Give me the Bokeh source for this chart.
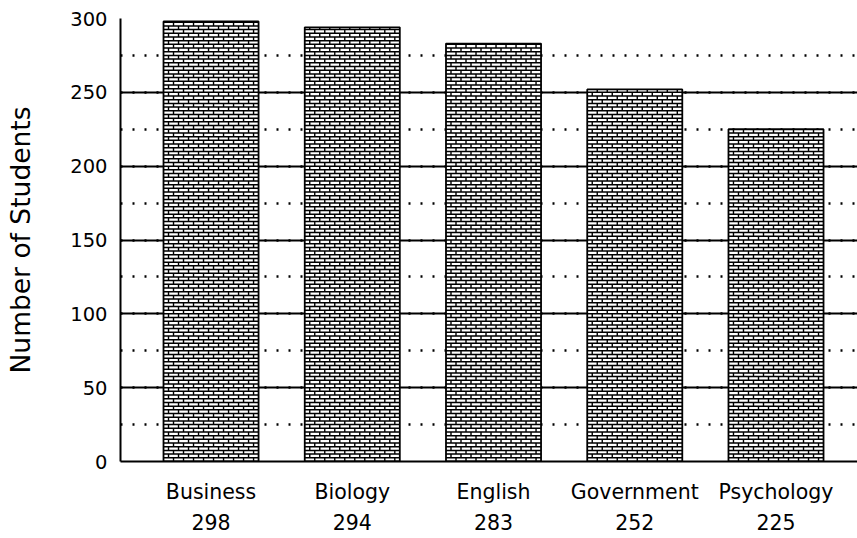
import numpy as np
from bokeh.plotting import figure
from bokeh.models import Range1d, SingleIntervalTicker, FixedTicker
from bokeh.embed import file_html
from bokeh.resources import INLINE

# ---- data ----
majors = ["Business", "Biology", "English", "Government", "Psychology"]
students = [298, 294, 283, 252, 225]
y_tick_interval = 50

x_pos = list(range(len(majors)))
tick_labels = {i: f"{m}\n{v}" for i, (m, v) in enumerate(zip(majors, students))}

BAR_W = 0.673
ROW_H = 2.5            # brick course height, in data units
BRICK_W = BAR_W / 9.5  # brick length, in x units

# ---- brick mortar lines, derived from the bars ----
h_xs, h_ys, v_xs, v_ys = [], [], [], []
for xc, top in zip(x_pos, students):
    left, right = xc - BAR_W / 2, xc + BAR_W / 2
    hx, hy, vx, vy = [], [], [], []
    for r, y0 in enumerate(np.arange(0, top, ROW_H)):
        y1 = min(y0 + ROW_H, top)
        if y0 > 0:
            hx += [left, right, np.nan]
            hy += [y0, y0, np.nan]
        start = left + BRICK_W * (0.5 if r % 2 else 1.0)
        for xv in np.arange(start, right - 1e-9, BRICK_W):
            vx += [xv, xv, np.nan]
            vy += [y0, y1, np.nan]
    h_xs.append(hx); h_ys.append(hy); v_xs.append(vx); v_ys.append(vy)

p = figure(width=857, height=538, output_backend="svg", toolbar_location=None,
           x_range=Range1d(-0.641, 4.577), y_range=Range1d(0, 300),
           min_border_left=120, min_border_right=0, min_border_top=18,
           min_border_bottom=76)
p.outline_line_color = None
p.background_fill_color = "white"

p.vbar(x=x_pos, top=students, width=BAR_W, bottom=0,
       fill_color="white", line_color=None)
p.multi_line(xs=h_xs, ys=h_ys, line_color="black", line_width=1.5)
p.multi_line(xs=v_xs, ys=v_ys, line_color="black", line_width=1.4)
p.vbar(x=x_pos, top=students, width=BAR_W, bottom=0,
       fill_color=None, line_color="black", line_width=1.8)

# y axis
p.yaxis.ticker = SingleIntervalTicker(interval=y_tick_interval, num_minor_ticks=2)
p.yaxis.axis_label = "Number of Students"
p.yaxis.axis_label_text_font = "DejaVu Sans"
p.yaxis.axis_label_text_font_size = "26.5px"
p.yaxis.axis_label_text_font_style = "normal"
p.yaxis.axis_label_text_color = "black"
p.yaxis.axis_label_standoff = 31
p.yaxis.major_label_text_font = "DejaVu Sans"
p.yaxis.major_label_text_font_size = "19.5px"
p.yaxis.major_label_text_color = "black"
p.yaxis.major_label_standoff = 13
p.yaxis.major_tick_out = 0
p.yaxis.major_tick_in = 0
p.yaxis.minor_tick_out = 0
p.yaxis.minor_tick_in = 0
p.yaxis.axis_line_width = 2
p.yaxis.axis_line_color = "black"

# x axis
p.xaxis.ticker = FixedTicker(ticks=x_pos)
p.xaxis.major_label_overrides = tick_labels
p.xaxis.major_label_text_font = "DejaVu Sans"
p.xaxis.major_label_text_font_size = "20.5px"
p.xaxis.major_label_text_color = "black"
p.xaxis.major_label_text_line_height = 1.33
p.xaxis.major_label_standoff = 18
p.xaxis.major_tick_out = 0
p.xaxis.major_tick_in = 0
p.xaxis.minor_tick_out = 0
p.xaxis.minor_tick_in = 0
p.xaxis.axis_line_width = 2
p.xaxis.axis_line_color = "black"

# grids
p.xgrid.visible = False
p.ygrid.grid_line_color = "black"
p.ygrid.grid_line_width = 2
p.ygrid.grid_line_alpha = 1.0
p.ygrid.minor_grid_line_color = "black"
p.ygrid.minor_grid_line_width = 2.5
p.ygrid.minor_grid_line_dash = "2 10"

open("out.html", "w").write(file_html(p, INLINE))
